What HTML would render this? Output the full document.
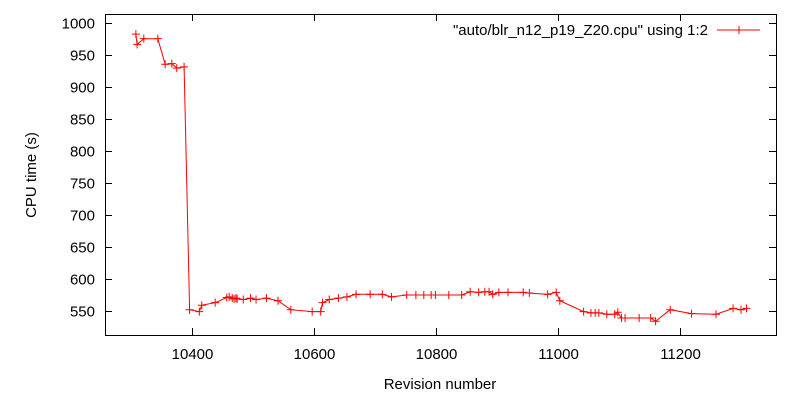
<!DOCTYPE html>
<html><head><meta charset="utf-8"><style>
html,body{margin:0;padding:0;background:#fff;}
svg{display:block;font-family:"Liberation Sans",Arial,sans-serif;font-size:15px;}
</style></head><body>
<svg id="chart" width="800" height="400" viewBox="0 0 800 400" xmlns="http://www.w3.org/2000/svg">
<rect x="105.5" y="14.5" width="671" height="321" fill="none" stroke="#000" stroke-width="1"/>
<g id="yticks"></g>
<g id="xticks"></g>
<text x="0" y="0" transform="translate(36,175) rotate(-90)" text-anchor="middle">CPU time (s)</text>
<text x="440" y="389" text-anchor="middle">Revision number</text>
<g>
<text x="708" y="35" text-anchor="end">"auto/blr_n12_p19_Z20.cpu" using 1:2</text>
<line x1="717" y1="30" x2="760" y2="30" stroke="#f00" stroke-width="1"/>
<path d="M735 30h8M739 26v8" stroke="#f00" stroke-width="1"/>
</g>
<g id="series"></g>
</svg>
<script>
const revisions=[10308,10310,10321,10344,10356,10367,10375,10387,10396,10412,10416,10438,10457,10461,10466,10469,10472,10474,10484,10496,10505,10522,10541,10562,10597,10611,10614,10625,10640,10654,10669,10692,10712,10727,10752,10767,10780,10792,10799,10821,10842,10856,10870,10880,10887,10893,10903,10918,10943,10953,10983,10997,11003,11042,11054,11061,11067,11080,11093,11098,11104,11110,11133,11152,11160,11184,11219,11259,11287,11300,11309];
const cpuTimes=[982,966,975,975,935,936,929,931,552,549,559,563,571,572,570,569,570,569,568,570,568,570,566,552,549,549,563,568,570,572,576,576,576,572,575,575,575,575,575,575,575,580,579,580,580,576,579,579,579,578,576,579,566,549,547,547,547,545,545,548,539,539,539,539,534,552,546,545,554,552,554];
const yTickValues=[550,600,650,700,750,800,850,900,950,1000];
const xTickValues=[10400,10600,10800,11000,11200];
const NS="http://www.w3.org/2000/svg";
function xs(r){return 192+(r-10400)*0.61;}
function ys(v){return 311-(v-550)*0.6408;}
const yg=document.getElementById('yticks'),xg=document.getElementById('xticks'),sg=document.getElementById('series');
yTickValues.forEach(v=>{
  const y=Math.round(ys(v))+0.5;
  const p=document.createElementNS(NS,'path');
  
  
  p.setAttribute('d',`M105 ${y}h7M776 ${y}h-7`);p.setAttribute('stroke','#000');yg.appendChild(p);
  const t=document.createElementNS(NS,'text');
  
  
  t.setAttribute('x',95);t.setAttribute('y',y+5);t.setAttribute('text-anchor','end');t.textContent=v;yg.appendChild(t);
});
xTickValues.forEach(v=>{
  const x=Math.round(xs(v))+0.5;
  const p=document.createElementNS(NS,'path');
  
  
  p.setAttribute('d',`M${x} 335v-7M${x} 14v7`);p.setAttribute('stroke','#000');xg.appendChild(p);
  const t=document.createElementNS(NS,'text');
  
  
  t.setAttribute('x',x);t.setAttribute('y',359);t.setAttribute('text-anchor','middle');t.textContent=v;xg.appendChild(t);
});
let d='';
revisions.forEach((r,i)=>{d+=(i?'L':'M')+xs(r).toFixed(1)+' '+ys(cpuTimes[i]).toFixed(1);});
const line=document.createElementNS(NS,'path');


line.setAttribute('d',d);line.setAttribute('fill','none');line.setAttribute('stroke','#f00');line.setAttribute('stroke-width','1');sg.appendChild(line);
revisions.forEach((r,i)=>{
  const x=xs(r),y=ys(cpuTimes[i]);
  const m=document.createElementNS(NS,'path');
  
  
  m.setAttribute('d',`M${x-4} ${y}h8M${x} ${y-4}v8`);m.setAttribute('stroke','#f00');m.setAttribute('stroke-width','1');sg.appendChild(m);
});
</script>
</body></html>
